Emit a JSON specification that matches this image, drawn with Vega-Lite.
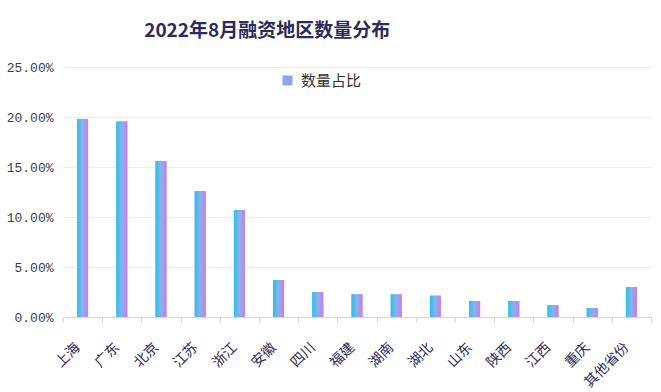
{
  "$schema": "https://vega.github.io/schema/vega-lite/v6.json",
  "width": 588,
  "height": 250,
  "autosize": {"type": "none"},
  "padding": {"left": 63, "top": 67, "right": 10, "bottom": 75},
  "background": "white",
  "config": {"view": {"stroke": null}},
  "title": {
    "text": "2022年8月融资地区数量分布",
    "anchor": "start",
    "dx": 138,
    "offset": 20,
    "font": "Noto Sans CJK SC",
    "fontSize": 19,
    "fontWeight": "bold",
    "color": "#2b2b5c"
  },
  "data": {
    "values": [
      {"地区": "上海", "占比": 0.198, "系列": "数量占比"},
      {"地区": "广东", "占比": 0.1955, "系列": "数量占比"},
      {"地区": "北京", "占比": 0.156, "系列": "数量占比"},
      {"地区": "江苏", "占比": 0.126, "系列": "数量占比"},
      {"地区": "浙江", "占比": 0.107, "系列": "数量占比"},
      {"地区": "安徽", "占比": 0.037, "系列": "数量占比"},
      {"地区": "四川", "占比": 0.025, "系列": "数量占比"},
      {"地区": "福建", "占比": 0.0227, "系列": "数量占比"},
      {"地区": "湖南", "占比": 0.0227, "系列": "数量占比"},
      {"地区": "湖北", "占比": 0.0213, "系列": "数量占比"},
      {"地区": "山东", "占比": 0.016, "系列": "数量占比"},
      {"地区": "陕西", "占比": 0.016, "系列": "数量占比"},
      {"地区": "江西", "占比": 0.0117, "系列": "数量占比"},
      {"地区": "重庆", "占比": 0.009, "系列": "数量占比"},
      {"地区": "其他省份", "占比": 0.03, "系列": "数量占比"}
    ]
  },
  "encoding": {
    "x": {
      "field": "地区",
      "type": "nominal",
      "sort": null,
      "scale": {"paddingInner": 0, "paddingOuter": 0},
      "axis": {
        "title": null,
        "labelAngle": -45,
        "labelAlign": "right",
        "labelBaseline": "top",
        "labelFont": "Noto Sans CJK SC",
        "labelFontSize": 14,
        "labelColor": "#2b2c55",
        "labelPadding": 18,
        "labelOffset": -10,
        "domainColor": "#d6d6d6",
        "tickColor": "#d6d6d6",
        "tickSize": 5,
        "tickBand": "extent",
        "grid": false
      }
    },
    "y": {
      "field": "占比",
      "type": "quantitative",
      "scale": {"domain": [0, 0.25]},
      "axis": {
        "title": null,
        "format": ".2%",
        "values": [0, 0.05, 0.1, 0.15, 0.2, 0.25],
        "labelFont": "Liberation Mono",
        "labelFontSize": 13,
        "labelColor": "#404040",
        "labelPadding": 10,
        "domain": false,
        "ticks": false,
        "gridColor": "#ececec",
        "gridWidth": 1
      }
    }
  },
  "layer": [
    {
      "mark": {"type": "bar", "width": 11},
      "encoding": {
        "color": {
          "field": "系列",
          "type": "nominal",
          "scale": {"range": ["#8aa6ec"]},
          "legend": {
            "title": null,
            "orient": "none",
            "legendX": 217,
            "legendY": 6,
            "symbolType": "square",
            "symbolSize": 100,
            "symbolStrokeWidth": 0,
            "labelFont": "Noto Sans CJK SC",
            "labelFontSize": 15,
            "labelColor": "#333333",
            "labelOffset": 6,
            "padding": 0
          }
        }
      }
    },
    {
      "mark": {
        "type": "bar",
        "width": 11,
        "color": {
          "gradient": "linear",
          "x1": 0, "x2": 1, "y1": 0, "y2": 0,
          "stops": [
            {"offset": 0, "color": "#22c4ea"},
            {"offset": 0.5, "color": "#8fb0ec"},
            {"offset": 1, "color": "#c77ded"}
          ]
        }
      }
    }
  ]
}
